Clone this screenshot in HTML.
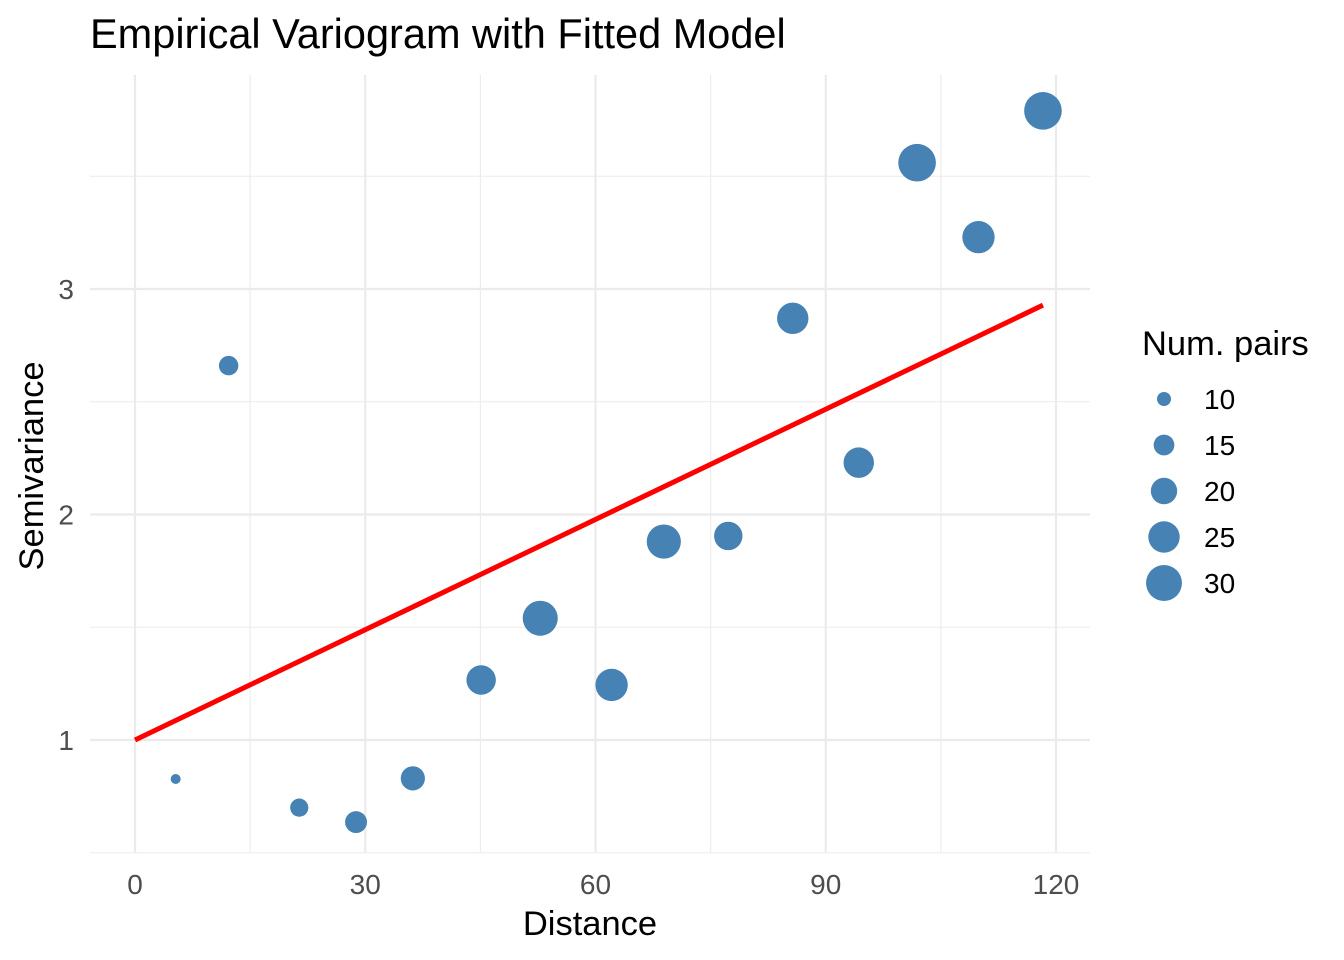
<!DOCTYPE html>
<html><head><meta charset="utf-8"><style>
body{margin:0;background:#fff;}
svg{display:block;font-family:"Liberation Sans",sans-serif;}
</style></head><body>
<svg id="chart" width="1344" height="960">
<text x="90" y="48" font-size="41.5" fill="#000">Empirical Variogram with Fitted Model</text>
<g id="grid"></g><g id="marks"></g><g id="axes"></g><g id="legend"></g>
<text x="590" y="935" font-size="34.5" text-anchor="middle" fill="#000">Distance</text>
<text transform="translate(43,466) rotate(-90)" font-size="34.5" text-anchor="middle" fill="#000">Semivariance</text>
</svg>
<script>
const distances=[5.3,12.2,21.4,28.8,36.2,45.1,52.8,62.1,68.9,77.3,85.7,94.3,101.9,109.9,118.3];
const gammas=[0.827,2.66,0.70,0.636,0.83,1.266,1.54,1.244,1.88,1.905,2.87,2.23,3.56,3.23,3.79];
const npairs=[7.5,14,13,16,18,23,29,26,28,22,25,24,32,26,32];
const xTicks=[0,30,60,90,120];
const yTicks=[1,2,3];
const legendValues=[10,15,20,25,30];
const modelIntercept=1.0;
const modelSlope=0.0163;
const NS="http://www.w3.org/2000/svg";
const X=v=>135+v*7.675;
const Y=v=>740-(v-1)*225.5;
const R=n=>4.74*Math.sqrt(n)-8;
function mk(tag,attrs,parent){const e=document.createElementNS(NS,tag);for(const k in attrs)e.setAttribute(k,attrs[k]);parent.appendChild(e);return e;}
const grid=document.getElementById('grid'),marks=document.getElementById('marks'),axes=document.getElementById('axes'),legend=document.getElementById('legend');
for(let v=0;v<=120;v+=15){const l=mk('line',{x1:X(v),x2:X(v),y1:75,y2:853,stroke:'#ebebeb','stroke-width':v%30===0?2.2:1.1},grid);

}
for(let v=0.5;v<=3.5;v+=0.5){const l=mk('line',{x1:90,x2:1090,y1:Y(v),y2:Y(v),stroke:'#ebebeb','stroke-width':v%1===0?2.2:1.1},grid);

}
xTicks.forEach(t=>{const e=mk('text',{x:X(t),y:894,'font-size':28,'text-anchor':'middle',fill:'#4d4d4d'},axes);e.textContent=t;

});
yTicks.forEach(t=>{const e=mk('text',{x:74,y:Y(t)+10,'font-size':28,'text-anchor':'end',fill:'#4d4d4d'},axes);e.textContent=t;

});
distances.forEach((d,i)=>{const c=mk('circle',{cx:X(d),cy:Y(gammas[i]),r:R(npairs[i]),fill:'#4682b4'},marks);

});
const xmax=Math.max(...distances);
const ln=mk('line',{x1:X(0),y1:Y(modelIntercept),x2:X(xmax),y2:Y(modelIntercept+modelSlope*xmax),stroke:'#ff0000','stroke-width':5},marks);


const lt=mk('text',{x:1142,y:355,'font-size':34.5,fill:'#000'},legend);lt.textContent='Num. pairs';


legendValues.forEach((v,i)=>{const cy=399+i*46;
const c=mk('circle',{cx:1164,cy:cy,r:R(v),fill:'#4682b4'},legend);


const t=mk('text',{x:1204,y:cy+10,'font-size':28,fill:'#000'},legend);t.textContent=v;

});
</script>
</body></html>
